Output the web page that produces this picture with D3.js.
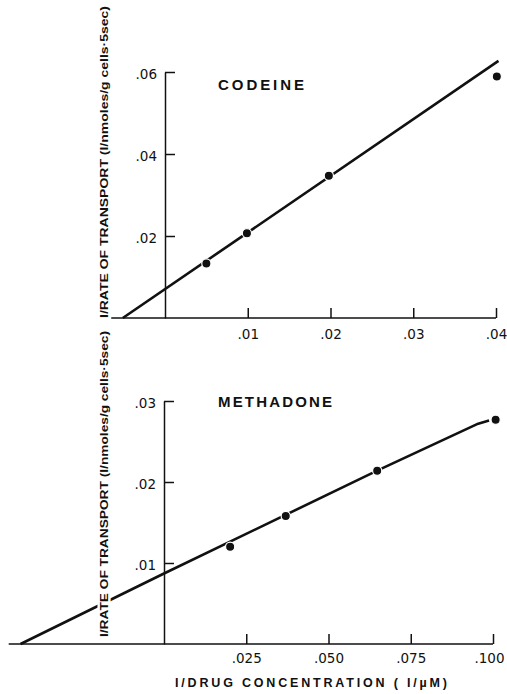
<!DOCTYPE html>
<html>
<head>
<meta charset="utf-8">
<script src="https://cdn.jsdelivr.net/npm/d3@7"></script>
<style>
  body { margin: 0; background: #fff; }
  svg { display: block; }
  .tick text { font-family: "DejaVu Sans", Arial, sans-serif; font-size: 13.5px; fill: #111; }
  .title { font-family: "Liberation Sans", Arial, sans-serif; font-weight: bold; fill: #111; }
</style>
</head>
<body>
<div id="chart"></div>
<script>
// codeine panel data
const codeineX = [0.005, 0.0099, 0.0198, 0.0401];
const codeineY = [0.0133, 0.0207, 0.0347, 0.0589];
const codeineFitX = [-0.0051, 0.0403];
const codeineFitY = [0, 0.0627];
const codeineXTicks = [0.01, 0.02, 0.03, 0.04];
const codeineYTicks = [0.02, 0.04, 0.06];

// methadone panel data (hand drawn line, slightly bent)
const methadoneX = [0.0201, 0.037, 0.0648, 0.1008];
const methadoneY = [0.012, 0.0158, 0.0214, 0.0277];
const methadoneFitX = [-0.0436, 0, 0.0648, 0.0955, 0.0988];
const methadoneFitY = [0, 0.0087, 0.0214, 0.0272, 0.0276];
const methadoneXTicks = [0.025, 0.05, 0.075, 0.1];
const methadoneYTicks = [0.01, 0.02, 0.03];

const yTitle = "I/RATE OF TRANSPORT (I/nmoles/g cells\u00b75sec)";
const xTitle = "I/DRUG CONCENTRATION ( I/\u00b5M)";

const W = 507, H = 694;
const svg = d3.select("#chart").append("svg")
    .attr("width", W)
    .attr("height", H);

const strip = f => s => f(s).replace(/^0\./, ".");

function drawPanel(opt) {
    let x = d3.scaleLinear().domain([0, opt.xMax]).range([opt.left, opt.right]);
    let y = d3.scaleLinear().domain([0, opt.yMax]).range([opt.bottom, opt.top]);

    let g = svg.append("g");

    // x baseline, reaching past zero on the left
    g.append("line")
        .attr("x1", x(opt.xMin)).attr("x2", x(opt.xMax))
        .attr("y1", y(0)).attr("y2", y(0))
        .attr("stroke", "#111").attr("stroke-width", 1.6);

    let xAxis = d3.axisBottom(x)
        .tickValues(opt.xTicks)
        .tickSizeInner(-10)
        .tickSizeOuter(0)
        .tickPadding(opt.xPad)
        .tickFormat(strip(d3.format(opt.xFmt)));
    let gx = g.append("g")
        .attr("transform", `translate(0,${y(0)})`)
        .call(xAxis);
    gx.select(".domain").remove();
    gx.selectAll(".tick line").attr("stroke", "#111").attr("stroke-width", 1.5);
    // keep the last label inside the page
    gx.selectAll(".tick text").filter((d, i, n) => i === n.length - 1).attr("dx", -opt.lastShift);

    let yAxis = d3.axisLeft(y)
        .tickValues(opt.yTicks)
        .tickSizeInner(-10)
        .tickSizeOuter(0)
        .tickPadding(8)
        .tickFormat(strip(d3.format(".2f")));
    let gy = g.append("g")
        .attr("transform", `translate(${x(0)},0)`)
        .call(yAxis);
    gy.select(".domain").attr("stroke", "#111").attr("stroke-width", 1.5);
    gy.selectAll(".tick line").attr("stroke", "#111").attr("stroke-width", 1.5);
    gy.selectAll(".tick text").attr("dy", "0.45em");

    // fitted line
    let fit = opt.fitX.map((d, i) => [d, opt.fitY[i]]);
    g.append("path")
        .datum(fit)
        .attr("fill", "none")
        .attr("stroke", "#111")
        .attr("stroke-width", 2.6)
        .attr("stroke-linejoin", "round")
        .attr("d", d3.line().x(d => x(d[0])).y(d => y(d[1])));

    // points
    g.selectAll("circle.pt")
        .data(opt.px.map((d, i) => [d, opt.py[i]]))
        .join("circle")
        .attr("class", "pt")
        .attr("cx", d => x(d[0]))
        .attr("cy", d => y(d[1]))
        .attr("r", 4.6)
        .attr("fill", "#111")
        .attr("stroke", "#fff")
        .attr("stroke-width", 1.2);

    // drug name
    g.append("text")
        .attr("class", "title")
        .attr("x", opt.nameX)
        .attr("y", opt.nameY)
        .attr("font-size", 15)
        .attr("textLength", opt.nameLen)
        .attr("lengthAdjust", "spacing")
        .text(opt.name);

    // y title, with a white halo that breaks the fit line behind it
    g.append("text")
        .attr("class", "title")
        .attr("transform", `translate(${opt.titleX},${opt.titleMid}) rotate(-90)`)
        .attr("text-anchor", "middle")
        .attr("font-size", 11.5)
        .attr("textLength", opt.titleLen)
        .attr("lengthAdjust", "spacingAndGlyphs")
        .attr("stroke", "#fff")
        .attr("stroke-width", 5)
        .attr("paint-order", "stroke")
        .text(yTitle);
}

drawPanel({
    xMin: -0.0065, xMax: 0.04, yMax: 0.06,
    left: 165, right: 496, top: 72, bottom: 318,
    xTicks: codeineXTicks, yTicks: codeineYTicks, xFmt: ".2f", xPad: 11, lastShift: 0,
    fitX: codeineFitX, fitY: codeineFitY,
    px: codeineX, py: codeineY,
    name: "CODEINE", nameX: 218, nameY: 90, nameLen: 86,
    titleX: 108, titleMid: 162, titleLen: 312
});

drawPanel({
    xMin: -0.0472, xMax: 0.1, yMax: 0.03,
    left: 164, right: 493, top: 401, bottom: 644,
    xTicks: methadoneXTicks, yTicks: methadoneYTicks, xFmt: ".3f", xPad: 9, lastShift: 4,
    fitX: methadoneFitX, fitY: methadoneFitY,
    px: methadoneX, py: methadoneY,
    name: "METHADONE", nameX: 218, nameY: 407, nameLen: 114,
    titleX: 108, titleMid: 484, titleLen: 306
});

svg.append("text")
    .attr("class", "title")
    .attr("x", 311)
    .attr("y", 687)
    .attr("text-anchor", "middle")
    .attr("font-size", 12.5)
    .attr("textLength", 272)
    .attr("lengthAdjust", "spacing")
    .text(xTitle);
</script>
</body>
</html>
